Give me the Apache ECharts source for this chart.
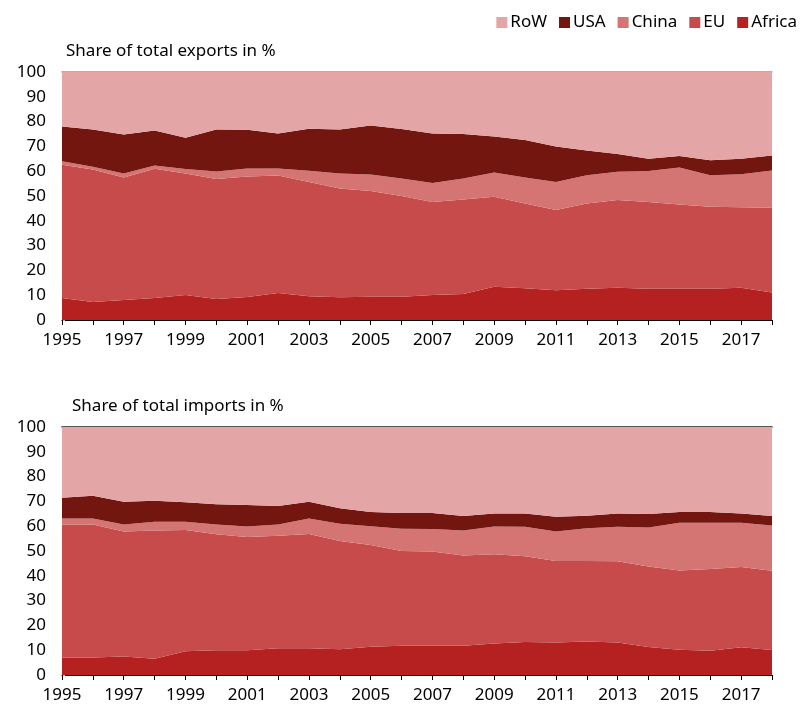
<!DOCTYPE html>
<html>
<head>
<meta charset="utf-8">
<script src="https://cdn.jsdelivr.net/npm/echarts@6/dist/echarts.min.js"></script>
<style>
  html, body { margin: 0; padding: 0; background: #fff; }
  #chart { width: 811px; height: 706px; }
</style>
</head>
<body>
<div id="chart"></div>
<script>
  const years = ['1995','1996','1997','1998','1999','2000','2001','2002','2003','2004','2005','2006',
                 '2007','2008','2009','2010','2011','2012','2013','2014','2015','2016','2017','2018']
  const yTicks = [0, 10, 20, 30, 40, 50, 60, 70, 80, 90, 100]

  // exports, share in %
  const expAfrica = [8.9,7.3,8.1,8.9,10.1,8.5,9.3,10.9,9.6,9.2,9.4,9.4,10.1,10.5,13.4,12.8,12.0,12.6,13.0,12.6,12.6,12.6,13.0,11.1]
  const expEU     = [53.7,53.4,49.4,52.1,49.0,48.4,48.6,47.4,46.0,43.8,42.6,40.6,37.5,38.1,36.3,34.2,32.4,34.4,35.4,35.0,34.0,33.1,32.5,34.2]
  const expChina  = [1.4,1.1,1.6,1.3,1.8,3.0,3.2,2.8,4.6,6.1,6.7,7.1,7.6,8.5,9.8,10.5,11.2,11.4,11.4,12.5,14.9,12.7,13.3,15.0]
  const expUSA    = [14.0,15.0,15.7,14.1,12.6,16.9,15.6,14.1,16.9,17.7,19.7,19.9,20.0,17.9,14.5,15.1,14.4,9.9,7.1,4.9,4.6,6.0,6.2,6.0]
  const expRoW    = [22.0,23.2,25.2,23.6,26.5,23.2,23.3,24.8,22.9,23.2,21.6,23.0,24.8,25.0,26.0,27.4,30.0,31.7,33.1,35.0,33.9,35.6,35.0,33.7]

  // imports, share in %
  const impAfrica = [7.1,7.1,7.5,6.6,9.6,10.0,10.0,10.8,10.8,10.4,11.4,11.8,11.8,11.8,12.7,13.3,13.1,13.5,13.1,11.3,10.2,9.8,11.2,10.1]
  const impEU     = [53.6,53.6,50.4,51.7,48.9,46.8,45.6,45.3,46.1,43.6,41.0,38.2,38.0,36.4,36.0,34.6,32.9,32.5,32.8,32.4,31.9,32.9,32.3,31.9]
  const impChina  = [2.4,2.4,2.8,3.5,3.3,3.9,4.3,4.6,6.2,7.0,7.6,9.0,9.1,10.1,11.2,11.9,11.9,13.2,13.9,15.8,19.3,18.7,17.9,18.3]
  const impUSA    = [8.4,9.2,9.2,8.5,7.9,8.2,8.6,7.4,6.8,6.2,5.7,6.3,6.4,5.8,5.2,5.3,5.9,5.0,5.3,5.4,4.3,4.3,3.7,3.8]
  const impRoW    = [28.5,27.7,30.1,29.7,30.3,31.1,31.5,31.9,30.1,32.8,34.3,34.7,34.7,35.9,34.9,34.9,36.2,35.8,34.9,35.1,34.3,34.3,34.9,35.9]

  const names = ['Africa', 'EU', 'China', 'USA', 'RoW']
  const colors = {
    Africa: '#b52020',
    EU: '#c74b4b',
    China: '#d47473',
    USA: '#741610',
    RoW: '#e4a5a6'
  }
  const font = '"Noto Sans", sans-serif'

  const expData = { Africa: expAfrica, EU: expEU, China: expChina, USA: expUSA, RoW: expRoW }
  const impData = { Africa: impAfrica, EU: impEU, China: impChina, USA: impUSA, RoW: impRoW }

  function makeSeries(data, idx) {
    return names.map(n => ({
      name: n,
      type: 'line',
      stack: 'total' + idx,
      xAxisIndex: idx * 2,
      yAxisIndex: idx,
      symbol: 'none',
      lineStyle: { width: 0 },
      areaStyle: { color: colors[n], opacity: 1 },
      itemStyle: { color: colors[n] },
      data: data[n]
    }))
  }

  function bottomAxis(gridIndex) {
    return {
      type: 'category',
      gridIndex: gridIndex,
      data: years,
      boundaryGap: false,
      axisLine: { lineStyle: { color: '#000', width: 1 } },
      axisTick: { length: 5, interval: 0, lineStyle: { color: '#000' } },
      axisLabel: { interval: 1, color: '#000', fontSize: 17, fontFamily: font, margin: 12 },
      splitLine: { show: false }
    }
  }

  function topAxis(gridIndex, color) {
    return {
      type: 'category',
      gridIndex: gridIndex,
      position: 'top',
      data: years,
      boundaryGap: false,
      axisLine: { lineStyle: { color: color, width: 1.5 } },
      axisTick: { show: false },
      axisLabel: { show: false }
    }
  }

  function valueAxis(gridIndex) {
    return {
      type: 'value',
      gridIndex: gridIndex,
      min: yTicks[0],
      max: yTicks[yTicks.length - 1],
      interval: 10,
      axisLine: { show: false },
      axisTick: { show: true, inside: true, length: 3, lineStyle: { color: '#bbb' } },
      axisLabel: { color: '#000', fontSize: 17, fontFamily: font, margin: 16 },
      splitLine: { show: false }
    }
  }

  const chart = echarts.init(document.getElementById('chart'), null, { renderer: 'canvas' })
  chart.setOption({
    animation: false,
    textStyle: { fontFamily: font },
    title: [
      { text: 'Share of total exports in %', left: 61, top: 38,
        textStyle: { fontSize: 17, fontWeight: 'normal', color: '#000', fontFamily: font } },
      { text: 'Share of total imports in %', left: 67, top: 393,
        textStyle: { fontSize: 17, fontWeight: 'normal', color: '#000', fontFamily: font } }
    ],
    legend: {
      data: ['RoW', 'USA', 'China', 'EU', 'Africa'],
      right: 9,
      top: 9,
      itemWidth: 11,
      itemHeight: 11,
      itemGap: 12,
      icon: 'rect',
      textStyle: { fontSize: 17, color: '#000', fontFamily: font, padding: [0, 0, 0, -2] }
    },
    grid: [
      { left: 62, right: 39, top: 72, height: 248 },
      { left: 62, right: 39, top: 427, height: 248 }
    ],
    xAxis: [bottomAxis(0), topAxis(0, '#999'), bottomAxis(1), topAxis(1, '#222')],
    yAxis: [valueAxis(0), valueAxis(1)],
    series: makeSeries(expData, 0).concat(makeSeries(impData, 1))
  })
</script>
</body>
</html>
